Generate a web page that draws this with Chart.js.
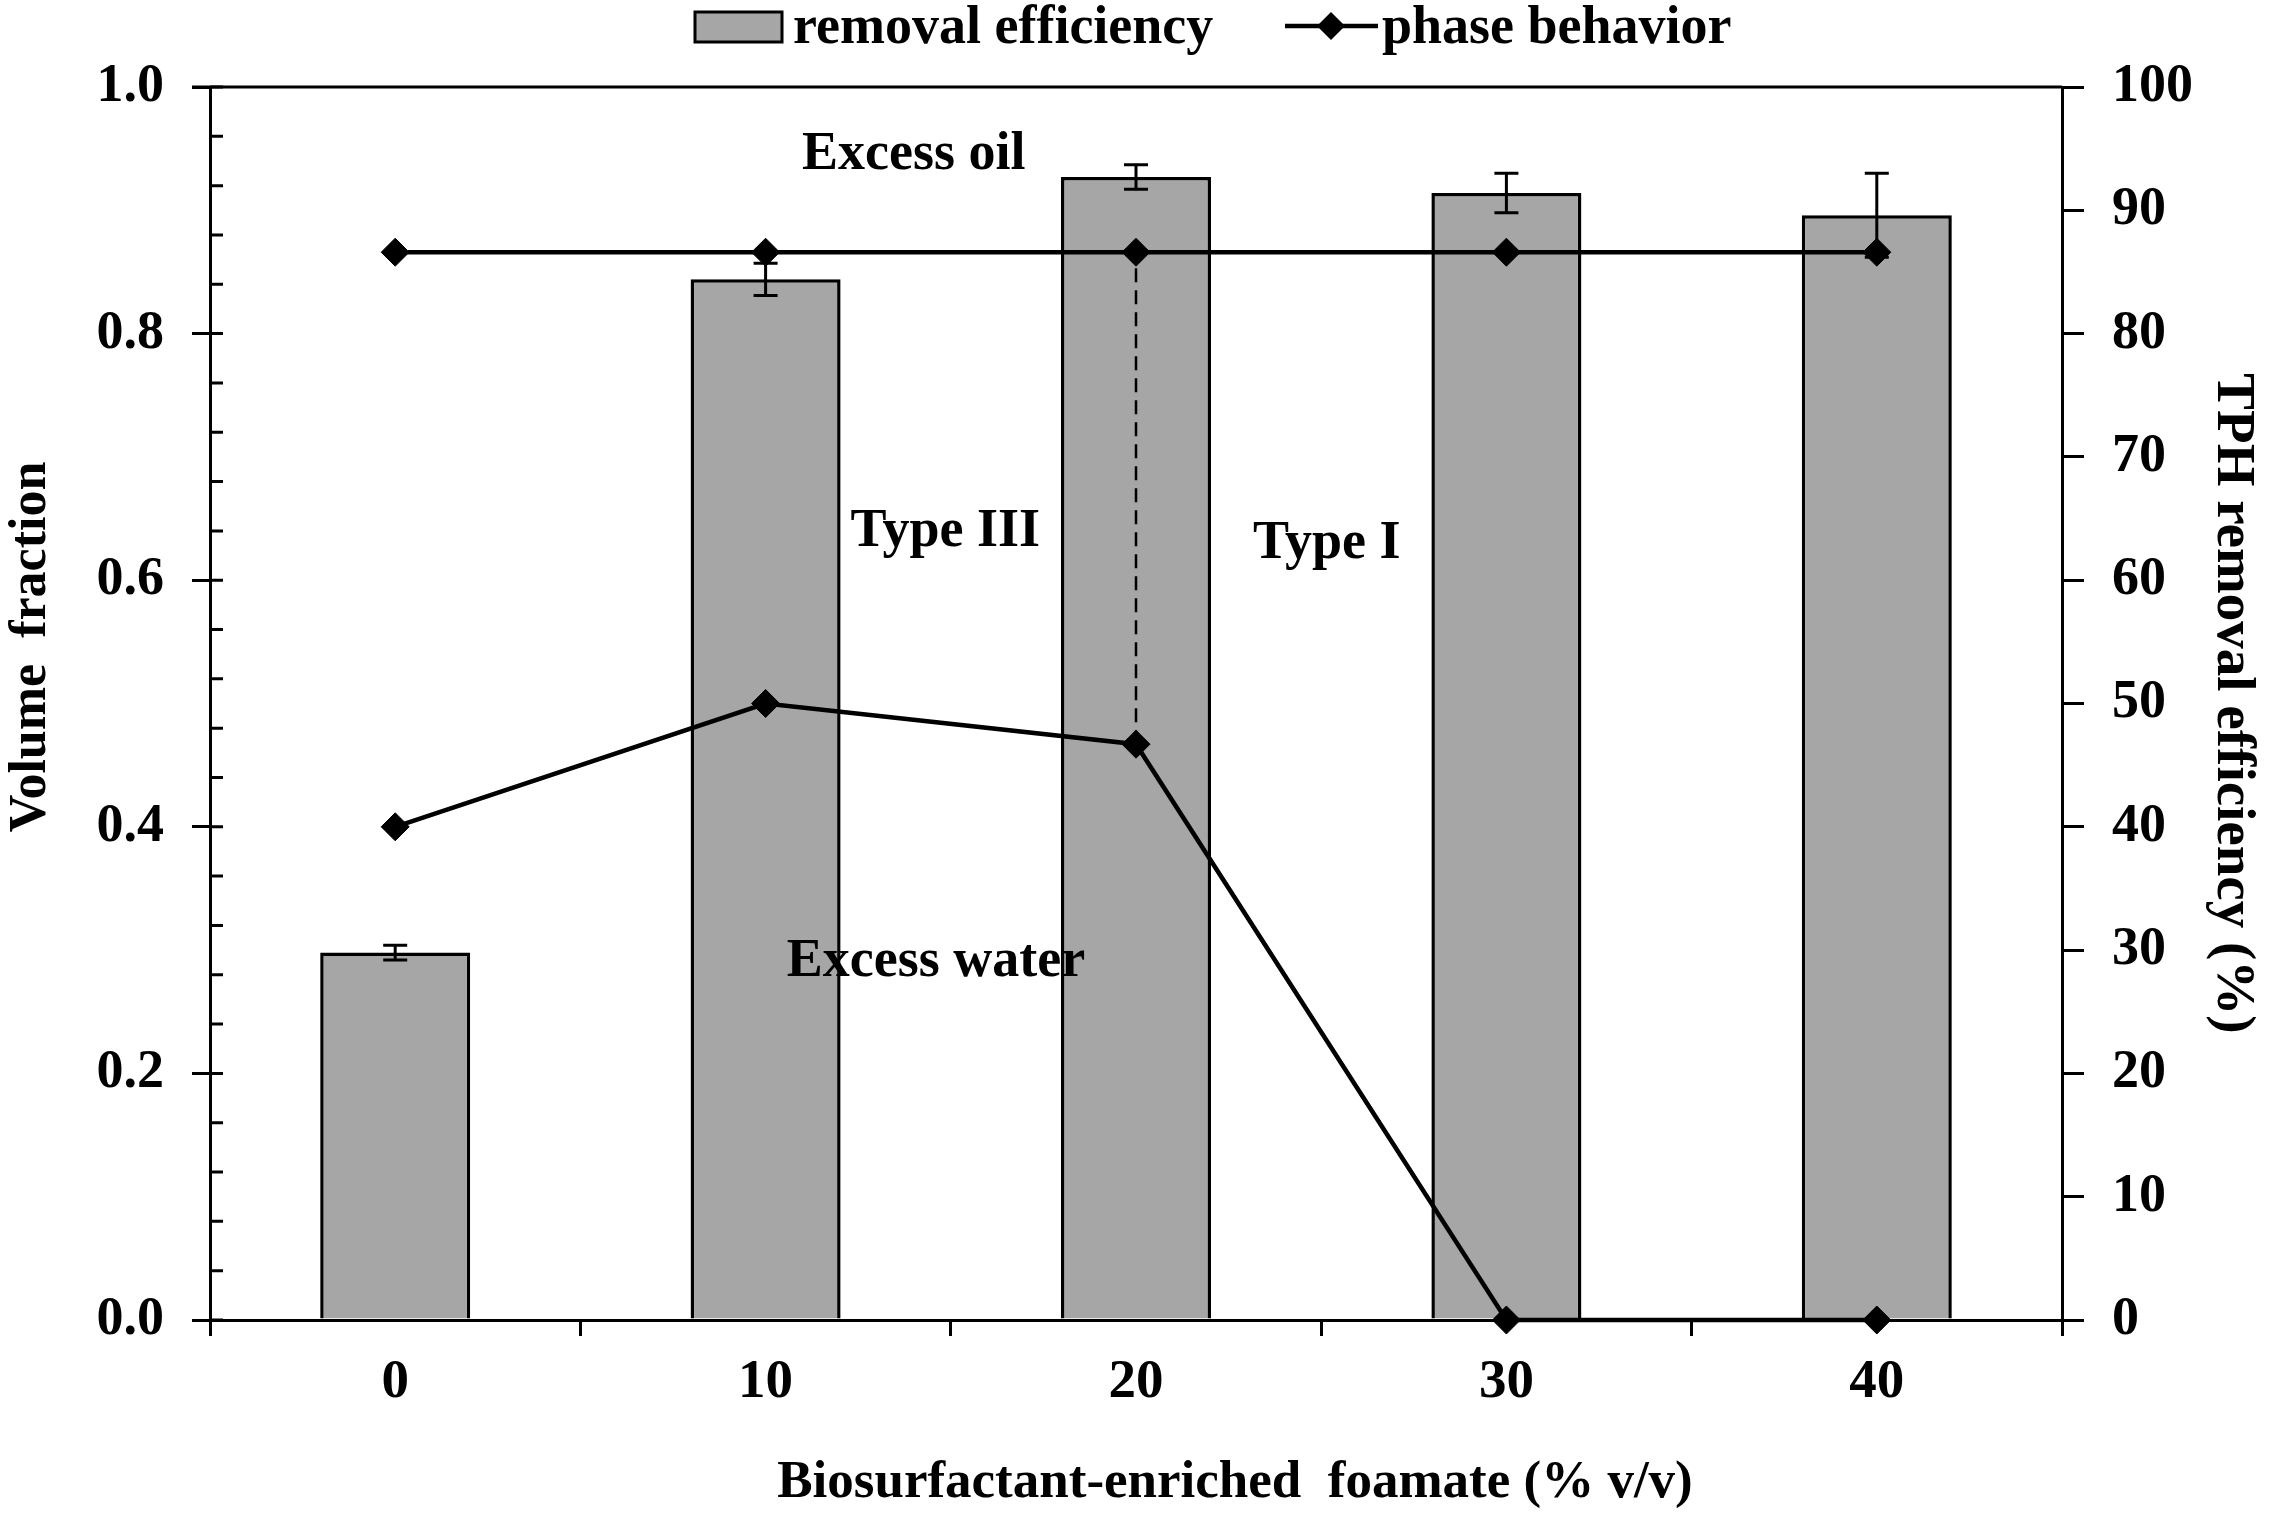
<!DOCTYPE html>
<html><head><meta charset="utf-8">
<script src="https://cdn.jsdelivr.net/npm/chart.js@4.4.1/dist/chart.umd.min.js"></script>
<style>html,body{margin:0;padding:0;background:#fff;}#wrap{width:2269px;height:1517px;}</style>
</head><body><div id="wrap"><canvas id="c" width="2269" height="1517"></canvas></div>
<script>
// ---------- data ----------
const categories = ['0', '10', '20', '30', '40'];
const removalEfficiency = [29.8, 84.4, 92.7, 91.4, 89.6];   // % (right axis)
const removalError = [0.6, 1.3, 1.0, 1.6, 3.4];             // % (right axis)
const phaseUpper = [0.866, 0.866, 0.866, 0.866, 0.866];     // volume fraction
const phaseLower = [0.40, 0.50, 0.467, 0.0, 0.0];           // volume fraction
const boundaryCategory = '20';
const leftTickStep = 0.2;
const leftMinorStep = 0.04;
const rightTickStep = 10;
const xTitle = 'Biosurfactant-enriched  foamate (% v/v)';
const leftTitle = 'Volume  fraction';
const rightTitle = 'TPH removal efficiency (%)';
const annotationTexts = ['Excess oil', 'Type III', 'Type I', 'Excess water'];
const annotationX = [1.40, 1.485, 2.515, 1.46];   // category index units
const annotationY = [0.945, 0.639, 0.629, 0.290]; // volume fraction units

// ---------- styling ----------
const FONT = "'Liberation Serif','Times New Roman',serif";
Chart.defaults.font.family = FONT;
Chart.defaults.font.weight = 'bold';
Chart.defaults.color = '#000';
const GRAY = '#a6a6a6';
const bi = categories.indexOf(boundaryCategory);

const extras = {
  id: 'extras',
  afterDatasetDraw(chart, args) {
    if (args.index !== 0) return;
    const ctx = chart.ctx, x = chart.scales.x, y1 = chart.scales.y1;
    ctx.save();
    ctx.strokeStyle = '#000';
    ctx.lineWidth = 3;
    const cap = 12;
    removalEfficiency.forEach((v, i) => {
      const px = x.getPixelForValue(i);
      const top = y1.getPixelForValue(v + removalError[i]);
      const bot = y1.getPixelForValue(v - removalError[i]);
      ctx.beginPath();
      ctx.moveTo(px, top); ctx.lineTo(px, bot);
      ctx.moveTo(px - cap, top); ctx.lineTo(px + cap, top);
      ctx.moveTo(px - cap, bot); ctx.lineTo(px + cap, bot);
      ctx.stroke();
    });
    ctx.restore();
  },
  afterDraw(chart) {
    const ctx = chart.ctx, a = chart.chartArea, y = chart.scales.y, x = chart.scales.x;
    ctx.save();
    // top frame line
    ctx.strokeStyle = '#000';
    ctx.lineWidth = 3;
    ctx.beginPath();
    ctx.moveTo(a.left - 18, a.top); ctx.lineTo(a.right, a.top);
    ctx.stroke();
    // inner ticks on the left axis (minor + major)
    const n = Math.round((y.max - y.min) / leftMinorStep);
    ctx.beginPath();
    for (let i = 0; i <= n; i++) {
      const py = y.getPixelForValue(y.min + i * leftMinorStep);
      ctx.moveTo(a.left, py); ctx.lineTo(a.left + 13, py);
    }
    ctx.stroke();
    ctx.fillStyle = '#000';
    ctx.textAlign = 'center';
    ctx.textBaseline = 'middle';
    // axis titles (x and left)
    ctx.font = 'bold 53px ' + FONT;
    ctx.fillText(xTitle, 1235, 1483);
    ctx.save();
    ctx.translate(32, 647);
    ctx.rotate(-Math.PI / 2);
    ctx.font = 'bold 52px ' + FONT;
    ctx.fillText(leftTitle, 0, 0);
    ctx.restore();
    // annotations
    ctx.font = 'bold 54px ' + FONT;
    annotationTexts.forEach((t, i) => {
      ctx.fillText(t, x.getPixelForValue(annotationX[i]), y.getPixelForValue(annotationY[i]));
    });
    // legend
    const ly = 29;
    ctx.fillStyle = GRAY;
    ctx.fillRect(695, 12, 87, 30);
    ctx.lineWidth = 3;
    ctx.strokeRect(695, 12, 87, 30);
    ctx.fillStyle = '#000';
    ctx.font = 'bold 54px ' + FONT;
    ctx.textAlign = 'left';
    ctx.fillText(chart.data.datasets[0].label, 793, ly);
    ctx.lineWidth = 4.5;
    ctx.beginPath();
    ctx.moveTo(1285, 26); ctx.lineTo(1378, 26);
    ctx.stroke();
    ctx.beginPath();
    ctx.moveTo(1331, 26 - 14); ctx.lineTo(1345, 26); ctx.lineTo(1331, 26 + 14); ctx.lineTo(1317, 26);
    ctx.closePath(); ctx.fill();
    ctx.fillText(chart.data.datasets[1].label, 1382, ly);
    ctx.restore();
  }
};

const lineStyle = {
  type: 'line', yAxisID: 'y', borderColor: '#000', borderWidth: 4.5,
  pointStyle: 'rectRot', pointRadius: 14, pointHoverRadius: 14,
  pointBackgroundColor: '#000', pointBorderColor: '#000', pointBorderWidth: 1,
  tension: 0, fill: false, clip: false, order: 1
};

new Chart(document.getElementById('c'), {
  type: 'bar',
  data: {
    labels: categories,
    datasets: [
      { type: 'bar', label: 'removal efficiency', data: removalEfficiency, yAxisID: 'y1',
        backgroundColor: GRAY, borderColor: '#000', borderWidth: 3.5,
        barPercentage: 0.81, categoryPercentage: 0.5, order: 3 },
      Object.assign({ label: 'phase behavior', data: phaseUpper }, lineStyle),
      Object.assign({ label: 'phase behavior (lower boundary)', data: phaseLower }, lineStyle),
      { type: 'line', label: 'phase boundary', yAxisID: 'y',
        data: [{ x: boundaryCategory, y: phaseLower[bi] }, { x: boundaryCategory, y: phaseUpper[bi] }],
        borderColor: '#000', borderWidth: 2.5, borderDash: [14, 8], pointRadius: 0, clip: false, order: 2 }
    ]
  },
  options: {
    responsive: false,
    animation: false,
    devicePixelRatio: 1,
    layout: { padding: { top: 87, left: 0, right: 0, bottom: 0 } },
    plugins: { legend: { display: false }, tooltip: { enabled: false } },
    scales: {
      x: {
        offset: true,
        grid: { offset: true, drawOnChartArea: false, tickLength: 16, color: '#000', lineWidth: 3 },
        border: { color: '#000', width: 3 },
        ticks: { font: { size: 55 }, padding: 14, color: '#000' },
        title: { display: false, text: xTitle },
        afterFit(s) { s.height = 197; }
      },
      y: {
        position: 'left', min: 0, max: 1,
        ticks: { stepSize: leftTickStep, callback: v => v.toFixed(1), font: { size: 54 }, padding: 28, color: '#000' },
        grid: { drawOnChartArea: false, tickLength: 18, color: '#000', lineWidth: 3 },
        border: { color: '#000', width: 3 },
        title: { display: false, text: leftTitle },
        afterFit(s) { s.width = 210; }
      },
      y1: {
        position: 'right', min: 0, max: 100,
        ticks: { stepSize: rightTickStep, font: { size: 54 }, padding: 28, color: '#000' },
        grid: { drawOnChartArea: false, tickLength: 22, color: '#000', lineWidth: 3 },
        border: { color: '#000', width: 3 },
        title: { display: true, text: rightTitle, font: { size: 55 }, color: '#000' },
        afterFit(s) { s.width = 207; }
      }
    }
  },
  plugins: [extras]
});
</script>
</body></html>
